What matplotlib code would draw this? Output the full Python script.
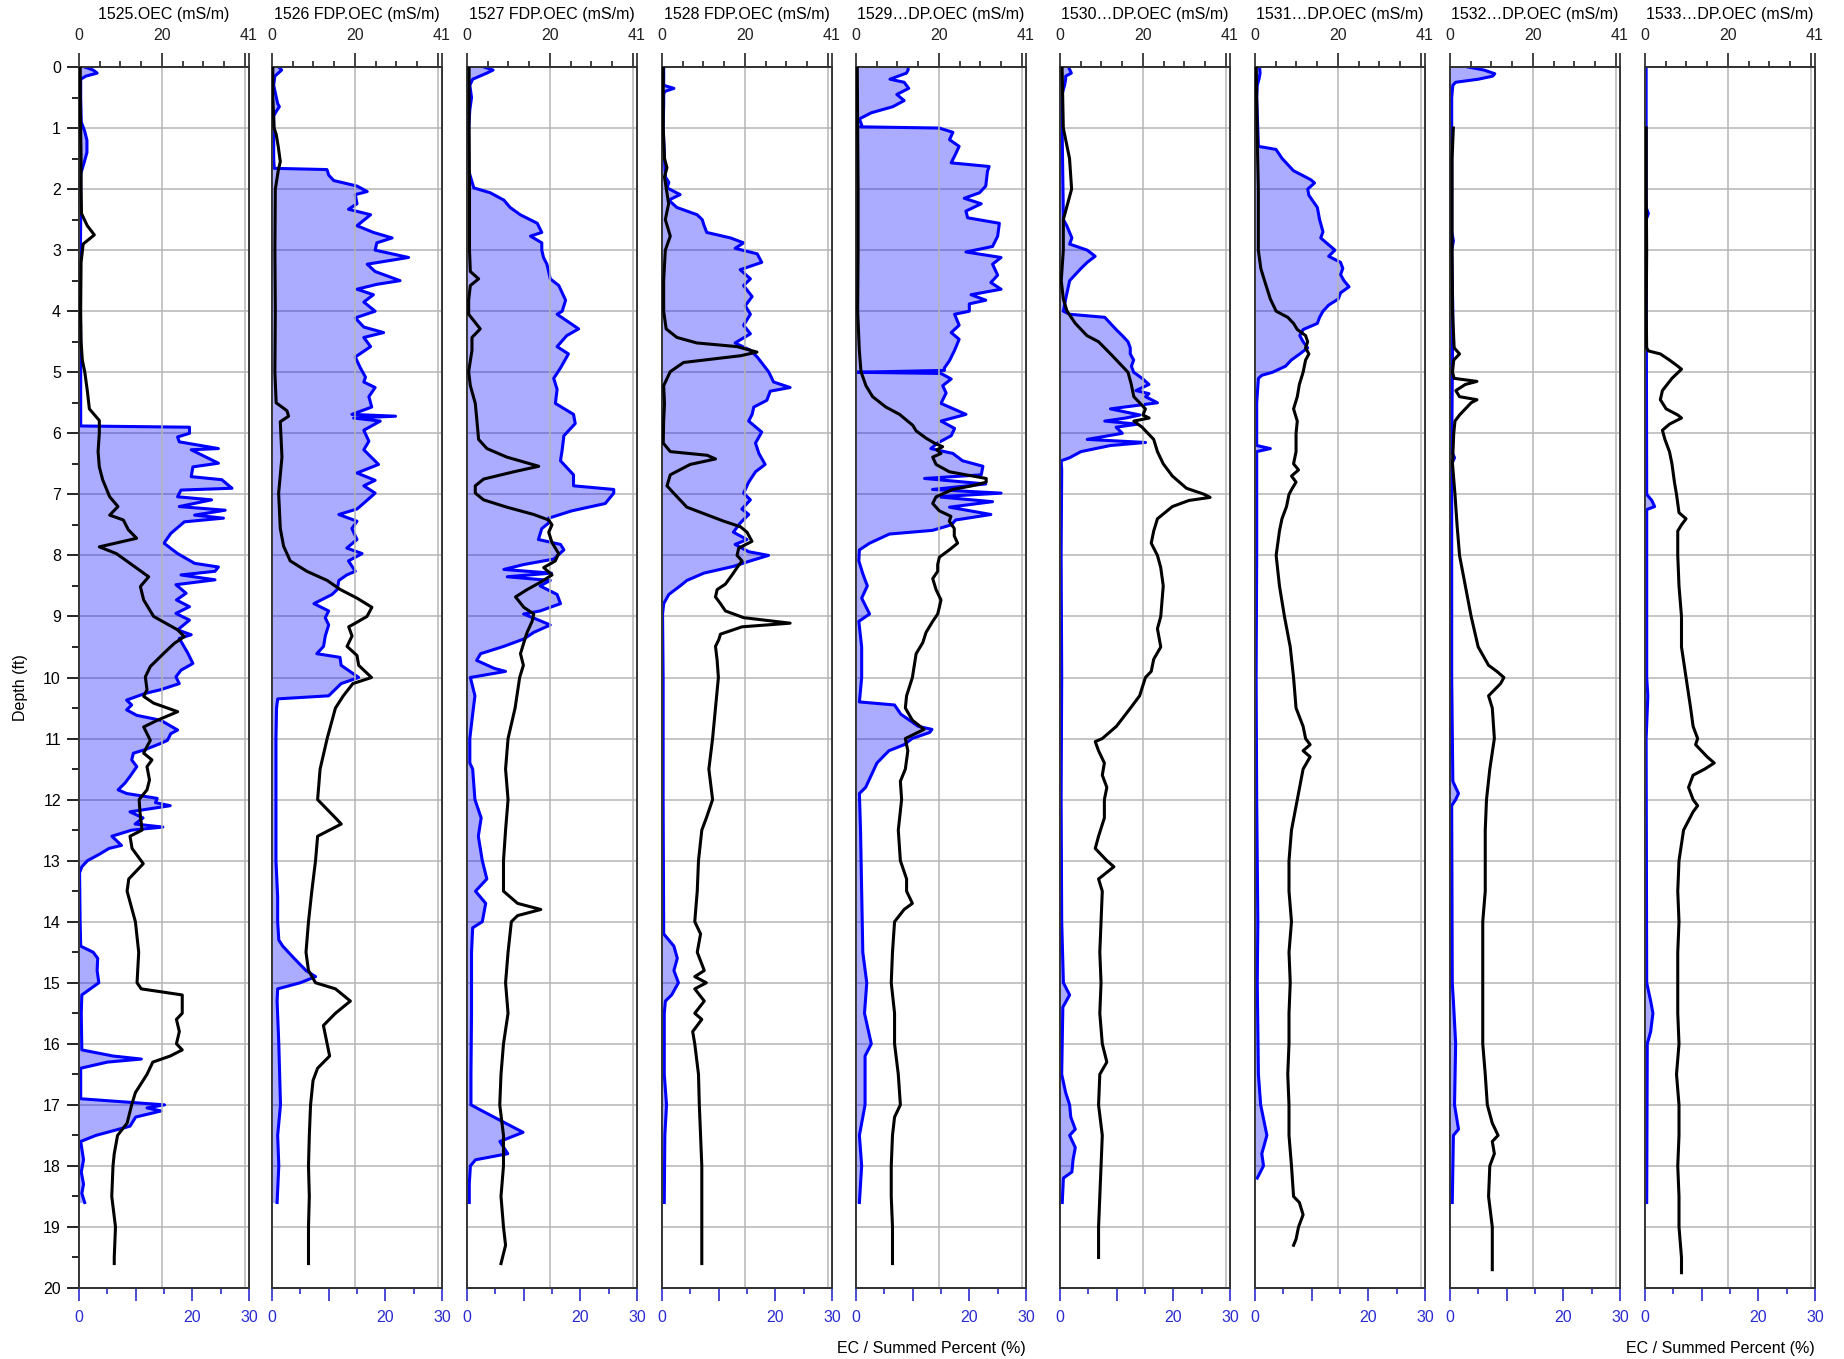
import numpy as np
import matplotlib
matplotlib.use("Agg")
import matplotlib.pyplot as plt
from matplotlib.ticker import FixedLocator, MultipleLocator

plt.rcParams['font.family'] = ['Liberation Sans', 'DejaVu Sans']

# panel titles (top axis = OEC in mS/m, bottom axis = summed percent)
titles = ['1525.OEC (mS/m)', '1526 FDP.OEC (mS/m)', '1527 FDP.OEC (mS/m)',
          '1528 FDP.OEC (mS/m)', '1529…DP.OEC (mS/m)', '1530…DP.OEC (mS/m)',
          '1531…DP.OEC (mS/m)', '1532…DP.OEC (mS/m)', '1533…DP.OEC (mS/m)']

# (depth ft, summed percent %) - blue filled trace
pct_1525 = [(0.0, 1.0), (0.05, 2.5), (0.1, 3.2), (0.15, 1.2), (0.2, 0.3), (0.5, 0.3), (0.9, 0.4),
            (1.05, 1.0), (1.2, 1.4), (1.4, 1.4), (1.6, 0.8), (1.75, 0.3), (2.5, 0.3), (3.5, 0.2),
            (4.5, 0.3), (5.5, 0.3), (5.88, 0.3), (5.9, 19.5), (6.0, 19.5), (6.06, 17.4), (6.14, 17.7),
            (6.25, 24.6), (6.27, 19.8), (6.49, 24.6), (6.55, 20.1), (6.71, 19.8), (6.76, 25.2),
            (6.9, 27.0), (6.93, 18.0), (7.04, 17.4), (7.09, 23.4), (7.2, 17.7), (7.26, 25.8),
            (7.34, 20.4), (7.39, 25.5), (7.45, 18.6), (7.64, 16.2), (7.8, 15.0), (7.97, 17.4),
            (8.13, 20.4), (8.19, 24.6), (8.26, 24.0), (8.32, 18.0), (8.4, 24.0), (8.48, 17.1),
            (8.62, 18.9), (8.73, 17.2), (8.84, 19.5), (8.95, 17.1), (9.06, 19.5), (9.22, 17.4),
            (9.3, 19.8), (9.36, 17.7), (9.6, 19.2), (9.77, 20.1), (9.88, 18.0), (9.99, 17.1),
            (10.1, 17.7), (10.2, 14.4), (10.26, 11.7), (10.37, 8.4), (10.45, 9.3), (10.53, 8.4),
            (10.62, 10.2), (10.7, 14.4), (10.86, 17.4), (10.92, 16.2), (11.03, 15.6), (11.08, 14.4),
            (11.18, 11.7), (11.24, 9.6), (11.35, 9.3), (11.46, 10.2), (11.62, 9.0), (11.73, 8.1),
            (11.84, 6.9), (11.9, 8.4), (11.98, 13.8), (12.05, 13.5), (12.1, 16.1), (12.2, 9.0),
            (12.3, 11.3), (12.4, 9.9), (12.45, 14.8), (12.5, 9.3), (12.6, 5.8), (12.75, 7.5),
            (12.8, 5.3), (12.9, 3.5), (13.0, 1.5), (13.1, 0.5), (13.2, 0.1), (14.0, 0.2), (14.4, 0.3),
            (14.5, 2.5), (14.6, 3.3), (14.8, 3.2), (15.0, 3.5), (15.1, 2.0), (15.2, 0.5), (15.5, 0.4),
            (16.1, 0.5), (16.2, 6.0), (16.25, 11.0), (16.3, 5.0), (16.4, 0.3), (16.9, 0.3),
            (17.0, 15.1), (17.05, 12.0), (17.1, 14.5), (17.2, 10.0), (17.35, 9.0), (17.5, 3.0),
            (17.6, 0.3), (17.9, 0.8), (18.1, 0.4), (18.3, 0.8), (18.45, 0.5), (18.6, 1.0)]
pct_1526 = [(0.0, 1.2), (0.05, 1.7), (0.15, 0.5), (0.3, 0.3), (0.6, 1.0), (0.65, 1.3), (0.72, 0.8),
            (0.8, 0.3), (1.0, 0.3), (1.5, 0.3), (1.66, 0.4), (1.68, 9.7), (1.77, 10.0), (1.86, 10.9),
            (1.95, 15.0), (2.04, 16.8), (2.09, 14.7), (2.24, 15.0), (2.33, 13.5), (2.42, 17.4),
            (2.6, 15.0), (2.71, 17.9), (2.8, 21.2), (2.88, 18.5), (3.0, 18.2), (3.12, 24.1),
            (3.23, 16.8), (3.35, 18.2), (3.5, 22.6), (3.56, 18.5), (3.64, 15.0), (3.73, 17.9),
            (3.85, 16.2), (4.0, 18.2), (4.11, 14.7), (4.26, 16.2), (4.35, 19.7), (4.43, 16.2),
            (4.58, 17.4), (4.75, 14.7), (4.93, 15.6), (5.08, 16.5), (5.16, 16.2), (5.25, 18.2),
            (5.4, 17.1), (5.57, 17.6), (5.69, 14.1), (5.72, 21.8), (5.75, 14.4), (5.8, 19.1),
            (5.95, 16.2), (6.13, 17.1), (6.27, 16.2), (6.51, 18.8), (6.65, 15.0), (6.77, 18.2),
            (6.86, 16.2), (6.98, 18.2), (7.12, 16.5), (7.24, 15.0), (7.33, 11.8), (7.44, 15.0),
            (7.56, 14.1), (7.74, 15.0), (7.88, 13.2), (7.97, 15.9), (8.09, 13.5), (8.26, 14.7),
            (8.32, 13.2), (8.41, 11.8), (8.56, 11.5), (8.64, 10.6), (8.79, 7.4), (8.91, 10.0),
            (9.02, 9.4), (9.14, 10.0), (9.32, 9.4), (9.49, 9.1), (9.61, 7.9), (9.67, 12.0),
            (9.8, 12.2), (10.0, 15.3), (10.1, 12.2), (10.3, 10.0), (10.35, 1.0), (10.5, 0.8),
            (11.0, 0.7), (12.0, 0.7), (13.0, 0.7), (13.6, 1.0), (14.0, 1.0), (14.3, 1.2), (14.4, 1.9),
            (14.6, 3.9), (14.8, 6.0), (14.9, 7.7), (15.0, 5.0), (15.1, 1.0), (15.3, 0.9), (16.0, 1.2),
            (17.0, 1.5), (17.5, 1.0), (18.0, 1.2), (18.6, 0.9)]
pct_1527 = [(0.0, 3.0), (0.05, 4.6), (0.1, 3.5), (0.2, 1.0), (0.3, 0.5), (0.5, 0.8), (0.7, 0.5),
            (1.0, 0.3), (1.7, 0.3), (1.98, 1.2), (2.06, 4.1), (2.18, 6.5), (2.3, 7.6), (2.42, 9.4),
            (2.56, 12.4), (2.71, 13.2), (2.77, 11.2), (2.88, 13.2), (3.0, 13.2), (3.12, 13.5),
            (3.23, 14.1), (3.47, 14.7), (3.58, 16.2), (3.82, 17.4), (4.0, 16.8), (4.05, 15.9),
            (4.29, 19.7), (4.4, 17.6), (4.58, 15.9), (4.7, 17.9), (4.93, 16.5), (5.1, 15.3),
            (5.28, 15.9), (5.51, 15.6), (5.69, 18.8), (5.84, 19.1), (6.04, 17.1), (6.27, 16.8),
            (6.45, 16.5), (6.68, 18.8), (6.86, 18.8), (6.92, 25.9), (6.98, 25.9), (7.15, 24.4),
            (7.27, 18.5), (7.39, 14.4), (7.47, 14.4), (7.56, 13.2), (7.74, 12.6), (7.82, 16.5),
            (7.91, 17.1), (8.06, 15.3), (8.15, 10.0), (8.23, 6.5), (8.29, 14.9), (8.35, 7.1),
            (8.41, 14.7), (8.5, 12.9), (8.64, 15.9), (8.79, 16.5), (8.91, 12.9), (8.96, 10.0),
            (9.05, 12.4), (9.14, 14.7), (9.26, 11.8), (9.37, 10.0), (9.49, 6.5), (9.61, 2.4),
            (9.72, 1.7), (9.85, 4.8), (9.9, 6.8), (10.0, 0.6), (10.3, 1.4), (10.6, 1.0), (11.0, 0.5),
            (11.4, 0.5), (11.5, 1.0), (12.0, 1.4), (12.3, 2.5), (12.6, 2.0), (13.0, 2.7), (13.3, 3.5),
            (13.5, 1.5), (13.7, 3.3), (14.0, 2.7), (14.1, 1.0), (14.5, 0.8), (15.5, 0.8), (16.5, 0.7),
            (17.0, 0.7), (17.1, 2.7), (17.3, 6.8), (17.45, 9.9), (17.6, 5.8), (17.8, 7.2), (17.9, 1.5),
            (18.0, 0.6), (18.3, 0.4), (18.6, 0.4)]
pct_1528 = [(0.0, 0.3), (0.3, 0.3), (0.35, 2.1), (0.4, 0.5), (0.45, 0.3), (0.6, 0.3), (1.0, 0.2),
            (1.8, 0.6), (1.89, 1.2), (1.98, 0.9), (2.09, 3.2), (2.18, 1.2), (2.3, 2.6), (2.42, 6.2),
            (2.5, 7.1), (2.59, 7.4), (2.71, 7.9), (2.8, 12.1), (2.88, 14.4), (2.97, 12.9), (3.06, 16.8),
            (3.2, 17.6), (3.32, 13.8), (3.47, 15.6), (3.58, 14.4), (3.76, 15.9), (3.91, 14.7),
            (4.05, 15.6), (4.23, 14.4), (4.37, 15.6), (4.52, 12.9), (4.64, 15.6), (4.75, 16.8),
            (4.99, 18.8), (5.16, 19.7), (5.25, 22.6), (5.31, 19.1), (5.46, 18.5), (5.57, 16.2),
            (5.69, 15.9), (5.8, 15.3), (5.98, 17.6), (6.16, 16.5), (6.33, 17.1), (6.51, 18.2),
            (6.63, 16.5), (6.8, 15.3), (6.98, 14.4), (7.09, 15.6), (7.24, 14.1), (7.33, 15.3),
            (7.47, 13.8), (7.62, 12.6), (7.74, 15.0), (7.82, 12.9), (7.94, 15.3), (8.0, 18.8),
            (8.09, 15.6), (8.18, 12.6), (8.29, 7.4), (8.41, 4.4), (8.5, 3.2), (8.64, 1.2), (8.79, 0.3),
            (8.96, 0.1), (10.0, 0.2), (12.0, 0.2), (14.2, 0.3), (14.4, 2.1), (14.6, 2.7), (14.8, 2.1),
            (15.0, 2.9), (15.2, 1.7), (15.3, 0.6), (15.5, 0.4), (16.5, 0.4), (17.0, 0.8), (17.5, 0.5),
            (18.6, 0.4)]
pct_1529 = [(0.0, 9.2), (0.05, 9.2), (0.1, 8.9), (0.2, 6.0), (0.25, 8.5), (0.35, 9.3), (0.45, 7.2),
            (0.55, 8.5), (0.65, 6.5), (0.75, 2.7), (0.85, 0.6), (0.95, 1.0), (0.98, 0.8), (1.0, 14.7),
            (1.07, 17.1), (1.19, 16.5), (1.3, 18.2), (1.42, 17.6), (1.57, 16.8), (1.63, 23.5),
            (1.71, 23.2), (1.95, 22.9), (2.06, 21.8), (2.15, 19.1), (2.24, 22.1), (2.36, 19.4),
            (2.47, 19.7), (2.56, 25.3), (2.77, 25.0), (2.94, 24.1), (3.03, 19.4), (3.12, 25.6),
            (3.23, 24.1), (3.41, 25.0), (3.53, 23.8), (3.64, 25.6), (3.73, 20.3), (3.82, 22.9),
            (3.88, 20.0), (4.0, 20.0), (4.05, 17.4), (4.23, 18.2), (4.35, 16.8), (4.46, 18.2),
            (4.64, 17.4), (4.81, 16.5), (4.93, 15.6), (4.97, 15.6), (5.0, 0.0), (5.02, 15.0),
            (5.11, 16.8), (5.22, 15.3), (5.34, 15.9), (5.51, 15.0), (5.69, 19.4), (5.8, 15.0),
            (5.92, 17.4), (6.04, 16.8), (6.16, 14.4), (6.25, 13.2), (6.33, 17.1), (6.45, 18.8),
            (6.54, 22.4), (6.68, 22.1), (6.74, 12.1), (6.83, 22.9), (6.92, 13.5), (6.98, 25.6),
            (7.04, 14.4), (7.12, 24.1), (7.21, 16.5), (7.33, 23.8), (7.42, 17.6), (7.5, 16.8),
            (7.59, 13.5), (7.65, 5.9), (7.8, 2.4), (7.91, 0.6), (8.09, 0.5), (8.3, 1.2), (8.5, 2.0),
            (8.7, 1.0), (8.96, 2.4), (9.08, 0.5), (9.5, 1.0), (10.0, 1.0), (10.4, 0.6), (10.45, 6.8),
            (10.6, 7.9), (10.8, 11.0), (10.85, 13.4), (10.9, 13.0), (11.0, 9.9), (11.1, 8.5),
            (11.2, 5.8), (11.4, 3.7), (11.6, 2.7), (11.8, 1.7), (11.9, 0.6), (12.5, 0.8), (13.5, 1.0),
            (14.5, 1.2), (15.0, 1.9), (15.5, 1.5), (16.0, 2.7), (16.2, 1.6), (17.0, 1.6), (17.5, 0.6),
            (18.0, 1.0), (18.6, 0.6)]
pct_1530 = [(0.0, 1.5), (0.1, 2.0), (0.15, 1.0), (0.2, 1.0), (0.3, 0.8), (0.4, 0.5), (0.5, 0.3),
            (2.5, 0.6), (2.6, 1.2), (2.8, 2.1), (2.9, 1.7), (3.0, 4.8), (3.1, 6.2), (3.2, 4.8),
            (3.3, 3.7), (3.5, 1.7), (3.8, 1.0), (4.0, 0.6), (4.05, 1.7), (4.1, 7.9), (4.2, 8.9),
            (4.3, 9.9), (4.4, 11.0), (4.5, 12.0), (4.6, 12.4), (4.7, 12.4), (4.8, 13.0), (4.9, 12.6),
            (5.0, 13.0), (5.1, 14.5), (5.2, 15.7), (5.3, 13.4), (5.35, 15.7), (5.4, 15.1), (5.5, 17.2),
            (5.6, 8.9), (5.7, 14.1), (5.75, 11.6), (5.8, 7.9), (5.85, 13.7), (5.9, 9.9), (6.0, 11.0),
            (6.1, 4.8), (6.15, 15.1), (6.2, 8.9), (6.3, 3.7), (6.4, 1.7), (6.45, 0.2), (6.6, 0.3),
            (8.0, 0.2), (10.0, 0.3), (12.0, 0.2), (14.0, 0.3), (15.0, 0.6), (15.2, 1.7), (15.4, 0.5),
            (16.5, 0.3), (16.8, 1.0), (17.0, 1.7), (17.2, 1.9), (17.4, 2.7), (17.5, 1.7), (17.7, 2.7),
            (17.9, 2.3), (18.1, 2.1), (18.2, 0.6), (18.6, 0.4)]
pct_1531 = [(0.0, 0.8), (0.1, 0.9), (0.2, 0.7), (0.3, 0.4), (0.5, 0.3), (1.3, 0.6), (1.35, 3.7),
            (1.5, 4.8), (1.7, 6.8), (1.8, 8.9), (1.85, 9.9), (1.9, 10.5), (2.0, 9.3), (2.1, 9.5),
            (2.3, 11.0), (2.5, 11.4), (2.7, 12.0), (2.8, 11.6), (3.0, 14.1), (3.1, 13.0), (3.2, 15.1),
            (3.3, 15.5), (3.4, 15.1), (3.5, 15.7), (3.6, 16.6), (3.7, 15.1), (3.8, 14.7), (3.9, 13.0),
            (4.0, 12.0), (4.1, 11.4), (4.2, 11.0), (4.3, 8.5), (4.4, 7.9), (4.5, 8.5), (4.6, 9.3),
            (4.7, 7.9), (4.8, 6.4), (4.9, 5.4), (5.0, 3.1), (5.05, 1.2), (5.1, 0.6), (5.5, 0.3),
            (6.2, 0.3), (6.25, 2.7), (6.3, 0.3), (8.0, 0.3), (10.0, 0.2), (12.0, 0.3), (14.0, 0.5),
            (15.0, 0.4), (16.5, 0.6), (17.0, 1.0), (17.5, 2.1), (17.8, 1.2), (18.0, 1.5), (18.2, 0.4)]
pct_1532 = [(0.0, 3.2), (0.05, 6.0), (0.11, 7.9), (0.15, 7.5), (0.2, 5.0), (0.25, 1.0), (0.3, 0.5),
            (0.5, 0.3), (2.7, 0.3), (2.85, 0.6), (3.0, 0.3), (4.0, 0.5), (6.3, 0.3), (6.4, 0.8),
            (6.5, 0.3), (10.0, 0.3), (11.7, 0.5), (11.9, 1.5), (12.0, 1.0), (12.1, 0.3), (15.0, 0.4),
            (15.3, 0.6), (16.0, 1.0), (17.0, 0.8), (17.4, 1.5), (17.5, 0.6), (18.6, 0.4)]
pct_1533 = [(0.0, 0.2), (2.3, 0.2), (2.4, 0.6), (2.5, 0.2), (7.0, 0.3), (7.1, 1.2), (7.2, 1.7),
            (7.25, 0.3), (10.0, 0.3), (10.3, 0.5), (11.0, 0.2), (15.0, 0.3), (15.3, 1.0), (15.5, 1.4),
            (15.8, 1.0), (16.0, 0.4), (18.6, 0.3)]

# (depth ft, EC mS/m) - black trace
ec_1525 = [(0.0, 0.3), (0.5, 0.3), (1.0, 0.4), (1.5, 0.5), (2.0, 0.5), (2.4, 0.6), (2.6, 2.0),
           (2.75, 3.7), (2.9, 1.0), (3.2, 0.5), (4.0, 0.4), (4.5, 0.5), (4.8, 0.8), (5.0, 1.4),
           (5.3, 2.0), (5.6, 2.5), (5.79, 4.9), (6.0, 4.9), (6.3, 4.6), (6.55, 4.9), (6.76, 5.7),
           (7.04, 7.4), (7.2, 9.4), (7.34, 7.4), (7.42, 10.7), (7.58, 11.9), (7.72, 13.9), (7.86, 4.9),
           (7.97, 9.0), (8.13, 12.3), (8.35, 16.8), (8.51, 14.8), (8.73, 15.6), (9.0, 18.0),
           (9.22, 23.8), (9.33, 25.4), (9.44, 23.0), (9.6, 20.5), (9.82, 17.2), (9.99, 16.0),
           (10.2, 16.4), (10.31, 15.6), (10.42, 18.0), (10.56, 23.8), (10.7, 18.9), (10.81, 15.6),
           (11.03, 17.2), (11.13, 16.4), (11.24, 15.6), (11.35, 17.6), (11.46, 16.4), (11.68, 17.0),
           (11.84, 16.4), (12.0, 14.5), (12.2, 14.7), (12.5, 15.2), (12.6, 12.3), (12.8, 12.8),
           (13.05, 15.5), (13.3, 12.0), (13.5, 11.6), (14.0, 13.6), (14.5, 14.4), (15.0, 14.0),
           (15.1, 15.0), (15.2, 24.9), (15.5, 24.9), (15.6, 23.5), (15.8, 24.2), (16.0, 23.5),
           (16.1, 24.9), (16.2, 22.0), (16.3, 17.8), (16.5, 16.4), (16.8, 13.6), (17.0, 12.7),
           (17.3, 11.6), (17.5, 9.3), (17.8, 8.5), (18.0, 8.2), (18.5, 7.9), (19.0, 8.8), (19.5, 8.5),
           (19.6, 8.5)]
ec_1526 = [(0.0, 0.2), (0.5, 0.2), (1.0, 0.5), (1.1, 1.0), (1.3, 1.5), (1.55, 2.0), (1.7, 1.5),
           (2.0, 0.8), (3.0, 0.7), (4.0, 0.8), (5.0, 0.7), (5.5, 1.0), (5.63, 3.6), (5.72, 4.0),
           (5.81, 2.0), (6.39, 2.4), (6.98, 1.6), (7.56, 2.0), (7.85, 2.8), (8.09, 4.4), (8.26, 8.4),
           (8.41, 13.3), (8.56, 16.5), (8.7, 20.5), (8.85, 24.1), (9.0, 22.9), (9.11, 20.1),
           (9.17, 18.5), (9.32, 19.3), (9.49, 18.1), (9.64, 20.5), (9.8, 20.9), (10.0, 24.0),
           (10.1, 19.5), (10.3, 17.2), (10.5, 15.3), (11.0, 13.3), (11.5, 11.6), (12.0, 11.0),
           (12.3, 15.3), (12.4, 16.7), (12.6, 11.0), (13.0, 10.5), (13.5, 9.6), (14.0, 8.8),
           (14.5, 8.2), (14.8, 8.8), (15.0, 10.5), (15.1, 15.3), (15.3, 18.9), (15.5, 15.3),
           (15.7, 12.4), (16.0, 13.3), (16.2, 13.9), (16.4, 11.0), (16.6, 9.9), (17.0, 9.3),
           (17.5, 9.0), (18.0, 8.8), (18.5, 9.0), (19.0, 8.8), (19.6, 8.8)]
ec_1527 = [(0.0, 0.5), (1.0, 0.5), (2.0, 0.6), (3.0, 0.6), (3.35, 0.8), (3.47, 2.8), (3.58, 0.8),
           (3.82, 0.4), (4.05, 0.4), (4.29, 3.2), (4.43, 1.2), (4.64, 1.2), (4.99, 0.4), (5.22, 0.8),
           (5.51, 2.0), (5.8, 2.4), (6.1, 2.8), (6.25, 4.8), (6.39, 9.6), (6.54, 17.3), (6.63, 11.3),
           (6.75, 4.0), (6.86, 2.0), (6.98, 2.0), (7.09, 4.0), (7.21, 9.6), (7.33, 16.1), (7.42, 19.7),
           (7.5, 20.5), (7.62, 19.7), (7.79, 20.5), (7.97, 22.1), (8.09, 21.3), (8.2, 18.5),
           (8.32, 20.5), (8.44, 17.7), (8.56, 14.5), (8.68, 11.7), (8.85, 13.7), (8.96, 16.1),
           (9.08, 15.7), (9.26, 14.5), (9.43, 13.7), (9.61, 12.9), (9.8, 13.6), (10.0, 12.7),
           (10.5, 11.6), (11.0, 9.9), (11.5, 9.3), (12.0, 9.9), (12.5, 9.3), (13.0, 8.8), (13.5, 8.8),
           (13.7, 12.2), (13.8, 17.8), (13.9, 12.2), (14.0, 10.7), (14.5, 9.9), (15.0, 9.3),
           (15.5, 9.9), (16.0, 8.8), (16.5, 8.2), (17.0, 7.9), (17.5, 8.8), (18.0, 8.8), (18.5, 8.2),
           (19.0, 8.8), (19.3, 9.3), (19.6, 8.2)]
ec_1528 = [(0.0, 0.3), (1.0, 0.3), (1.5, 0.6), (1.65, 1.2), (1.8, 0.6), (2.24, 1.6), (2.5, 0.8),
           (2.77, 2.0), (3.0, 0.8), (3.5, 0.4), (4.0, 0.4), (4.29, 1.0), (4.43, 3.6), (4.52, 8.4),
           (4.58, 18.1), (4.67, 22.9), (4.73, 18.9), (4.84, 5.2), (4.99, 2.0), (5.22, 0.4), (5.51, 0.6),
           (5.8, 0.4), (6.16, 0.3), (6.3, 2.0), (6.36, 10.9), (6.42, 12.9), (6.51, 6.8), (6.68, 2.0),
           (6.86, 1.2), (6.98, 2.8), (7.21, 6.0), (7.44, 14.9), (7.53, 18.9), (7.62, 20.5),
           (7.77, 21.7), (7.88, 18.5), (8.0, 18.1), (8.09, 19.3), (8.2, 18.1), (8.32, 16.9),
           (8.47, 15.3), (8.56, 13.3), (8.68, 12.9), (8.79, 14.1), (8.91, 15.3), (9.02, 19.7),
           (9.11, 30.9), (9.17, 19.3), (9.29, 14.1), (9.38, 13.7), (9.49, 12.9), (9.72, 13.3),
           (10.0, 13.6), (10.5, 12.9), (11.0, 12.2), (11.5, 11.3), (12.0, 12.2), (12.3, 10.7),
           (12.5, 9.6), (13.0, 8.8), (13.5, 8.5), (14.0, 7.9), (14.2, 9.3), (14.5, 8.5), (14.8, 10.2),
           (14.9, 7.9), (15.0, 10.7), (15.1, 7.9), (15.3, 10.2), (15.5, 7.9), (15.6, 9.6), (15.8, 7.4),
           (16.0, 7.9), (16.5, 8.8), (17.0, 9.0), (17.5, 9.3), (18.0, 9.6), (18.5, 9.6), (19.0, 9.6),
           (19.6, 9.6)]
ec_1529 = [(0.0, 0.3), (1.0, 0.4), (2.0, 0.5), (3.0, 0.5), (4.0, 0.4), (4.64, 0.8), (4.99, 1.2),
           (5.22, 2.4), (5.4, 4.0), (5.57, 7.2), (5.69, 10.5), (5.87, 13.7), (5.96, 14.5), (6.08, 16.9),
           (6.16, 18.9), (6.22, 20.9), (6.27, 19.5), (6.33, 20.5), (6.39, 18.5), (6.51, 19.3),
           (6.63, 22.5), (6.74, 31.4), (6.8, 31.4), (6.86, 28.0), (6.92, 23.3), (7.04, 19.3),
           (7.15, 18.5), (7.27, 20.1), (7.36, 22.9), (7.44, 22.5), (7.56, 23.7), (7.68, 23.7),
           (7.8, 24.5), (7.91, 22.5), (8.03, 20.1), (8.15, 19.7), (8.26, 19.7), (8.38, 18.5),
           (8.56, 19.3), (8.73, 20.5), (8.85, 20.1), (8.96, 19.7), (9.08, 18.5), (9.26, 16.9),
           (9.43, 16.1), (9.61, 14.5), (10.0, 13.6), (10.3, 12.2), (10.5, 11.9), (10.7, 13.6),
           (10.85, 16.4), (11.0, 11.9), (11.2, 12.5), (11.5, 11.9), (11.7, 10.7), (12.0, 11.0),
           (12.5, 10.2), (13.0, 10.7), (13.3, 12.2), (13.5, 12.2), (13.7, 13.6), (13.8, 11.6),
           (14.0, 9.3), (14.5, 8.8), (15.0, 8.5), (15.5, 9.3), (16.0, 9.3), (16.5, 10.2), (17.0, 10.7),
           (17.2, 9.3), (17.5, 8.8), (18.0, 8.5), (18.5, 8.5), (19.0, 8.8), (19.6, 8.8)]
ec_1530 = [(0.0, 0.5), (1.0, 0.8), (1.5, 2.3), (2.0, 2.8), (2.5, 0.8), (3.0, 0.8), (3.5, 0.3),
           (3.8, 0.8), (4.0, 1.7), (4.2, 3.7), (4.4, 6.5), (4.5, 9.3), (4.7, 12.2), (4.9, 15.0),
           (5.0, 16.4), (5.2, 17.2), (5.4, 17.8), (5.6, 20.6), (5.7, 20.0), (5.75, 21.5), (5.8, 17.8),
           (5.9, 19.8), (6.0, 21.2), (6.1, 22.6), (6.3, 23.5), (6.5, 24.9), (6.7, 27.1), (6.9, 30.5),
           (7.0, 34.8), (7.05, 36.2), (7.1, 31.1), (7.2, 27.1), (7.4, 23.5), (7.6, 22.6), (7.8, 22.0),
           (8.0, 23.5), (8.2, 24.3), (8.5, 24.9), (9.0, 24.3), (9.2, 23.5), (9.5, 24.3), (9.7, 22.6),
           (9.9, 22.0), (10.0, 20.6), (10.3, 19.2), (10.5, 17.0), (10.8, 13.6), (11.0, 10.2),
           (11.05, 8.5), (11.2, 9.3), (11.4, 10.7), (11.6, 10.2), (11.8, 11.3), (12.0, 10.7),
           (12.3, 10.7), (12.6, 9.3), (12.8, 8.5), (13.0, 11.3), (13.1, 13.0), (13.3, 9.3),
           (13.5, 10.2), (14.0, 9.9), (14.5, 9.6), (15.0, 9.9), (15.5, 9.6), (16.0, 10.2), (16.3, 11.3),
           (16.5, 9.6), (17.0, 9.3), (17.5, 10.2), (18.0, 9.9), (18.5, 9.6), (19.0, 9.3), (19.5, 9.3)]
ec_1531 = [(0.0, 0.3), (1.0, 0.5), (2.0, 0.8), (3.0, 0.8), (3.3, 1.4), (3.5, 2.3), (3.8, 3.7),
           (4.0, 5.1), (4.1, 7.9), (4.2, 9.3), (4.3, 10.2), (4.4, 12.2), (4.5, 12.7), (4.6, 12.2),
           (4.7, 13.0), (4.8, 12.2), (5.0, 11.6), (5.2, 10.7), (5.4, 10.2), (5.6, 9.3), (5.8, 10.2),
           (6.0, 9.9), (6.3, 9.9), (6.5, 9.3), (6.6, 10.5), (6.7, 8.8), (6.8, 9.9), (6.9, 9.0),
           (7.0, 8.2), (7.2, 7.6), (7.4, 6.5), (7.6, 5.9), (8.0, 5.1), (8.5, 5.9), (9.0, 7.1),
           (9.5, 8.5), (10.0, 9.3), (10.5, 9.9), (10.8, 11.6), (11.0, 12.2), (11.1, 13.3), (11.2, 11.6),
           (11.3, 13.3), (11.5, 11.6), (12.0, 10.2), (12.5, 8.8), (13.0, 8.2), (13.5, 8.2), (14.0, 8.8),
           (14.5, 8.2), (15.0, 8.5), (15.5, 8.2), (16.0, 8.2), (16.5, 7.9), (17.0, 8.2), (17.5, 8.2),
           (18.0, 8.8), (18.5, 9.3), (18.6, 10.7), (18.8, 11.6), (19.0, 10.5), (19.2, 9.9), (19.3, 9.3)]
ec_1532 = [(1.0, 0.8), (1.5, 0.5), (2.0, 0.5), (3.0, 0.5), (4.0, 0.6), (4.6, 1.0), (4.7, 2.3),
           (4.8, 0.9), (5.0, 0.6), (5.1, 1.0), (5.15, 6.5), (5.2, 3.7), (5.3, 1.4), (5.4, 2.3),
           (5.45, 6.5), (5.5, 5.1), (5.6, 3.7), (5.7, 2.3), (5.8, 1.2), (6.0, 0.9), (6.5, 0.6),
           (7.0, 1.2), (7.5, 1.7), (8.0, 2.3), (8.5, 3.7), (9.0, 5.1), (9.5, 6.8), (9.8, 9.3),
           (9.9, 11.3), (10.0, 13.0), (10.1, 12.2), (10.3, 9.3), (10.5, 10.2), (11.0, 10.7),
           (11.5, 9.6), (12.0, 8.8), (12.5, 8.5), (13.0, 8.5), (13.5, 8.5), (14.0, 7.9), (14.5, 7.9),
           (15.0, 7.9), (15.5, 7.9), (16.0, 7.9), (16.5, 8.5), (17.0, 9.0), (17.3, 10.2), (17.5, 11.6),
           (17.6, 10.2), (17.8, 10.7), (18.0, 9.6), (18.5, 9.3), (19.0, 10.2), (19.5, 10.2), (19.7, 10.2)]
ec_1533 = [(1.0, 0.3), (2.0, 0.3), (3.0, 0.4), (4.0, 0.3), (4.6, 0.4), (4.65, 0.8), (4.7, 3.7),
           (4.8, 5.9), (4.9, 7.9), (4.95, 8.8), (5.1, 6.5), (5.3, 4.2), (5.45, 3.7), (5.6, 5.1),
           (5.7, 7.9), (5.75, 8.8), (5.85, 5.9), (5.95, 4.2), (6.1, 4.8), (6.3, 5.9), (6.5, 6.5),
           (6.8, 7.1), (7.0, 7.6), (7.3, 8.2), (7.4, 9.9), (7.5, 8.8), (7.6, 7.9), (8.0, 7.9),
           (8.5, 8.2), (9.0, 8.8), (9.5, 8.8), (10.0, 9.9), (10.5, 11.0), (10.8, 11.6), (11.0, 12.7),
           (11.1, 12.2), (11.3, 15.0), (11.4, 16.7), (11.5, 14.4), (11.6, 11.6), (11.8, 10.5),
           (12.0, 11.6), (12.1, 12.7), (12.2, 11.6), (12.5, 9.3), (13.0, 8.2), (13.5, 7.9), (14.0, 8.2),
           (14.5, 7.9), (15.0, 7.9), (15.5, 7.9), (16.0, 8.2), (16.5, 7.6), (17.0, 8.2), (17.5, 8.2),
           (18.0, 7.9), (18.5, 8.2), (19.0, 8.2), (19.5, 8.8), (19.75, 8.8)]

pct_series = [pct_1525, pct_1526, pct_1527, pct_1528, pct_1529, pct_1530, pct_1531, pct_1532, pct_1533]
ec_series = [ec_1525, ec_1526, ec_1527, ec_1528, ec_1529, ec_1530, ec_1531, ec_1532, ec_1533]

W, H = 1844, 1359
fig = plt.figure(figsize=(W / 100, H / 100), dpi=100)

# panel placement in pixels
lefts = [79, 272, 467, 662, 856, 1060, 1255, 1450, 1645]
pw = 170
top_px, bot_px = 67, 1288
blue = '#0000ff'
tick_blue = '#2b2bd0'
grid_c = '#b5b5b5'
fs = 11.5

for i, (title, pct, ec) in enumerate(zip(titles, pct_series, ec_series)):
    ax = fig.add_axes([lefts[i] / W, 1 - bot_px / H, pw / W, (bot_px - top_px) / H])
    ax.set_xlim(0, 30)
    ax.set_ylim(20, 0)

    d, v = np.array(pct).T
    ax.fill_betweenx(d, 0, v, color=blue, alpha=0.33, lw=0, zorder=2)
    ax.plot(v, d, color=blue, lw=2.2, zorder=3, solid_joinstyle='round')

    # depth grid + ticks
    ax.set_yticks(np.arange(0, 21, 1))
    ax.yaxis.set_minor_locator(MultipleLocator(0.5))
    ax.grid(axis='y', color=grid_c, lw=1.1)
    ax.set_axisbelow(True)
    if i == 0:
        ax.tick_params(axis='y', which='major', length=9, width=1.2, pad=4, labelsize=fs)
        ax.tick_params(axis='y', which='minor', length=5, width=1.2)
    else:
        ax.tick_params(axis='y', which='both', length=0, labelleft=False)

    # bottom axis (percent)
    ax.set_xticks([0, 10, 20, 30])
    ax.set_xticklabels(['0', '', '20', '30'])
    ax.xaxis.set_minor_locator(FixedLocator([5, 15, 25]))
    ax.tick_params(axis='x', which='major', colors=tick_blue, length=9, width=1.2, pad=7, labelsize=fs)
    ax.tick_params(axis='x', which='minor', colors=tick_blue, length=4, width=1.2)

    # top axis (EC)
    ax2 = ax.twiny()
    ax2.set_xlim(0, 41)
    de, ve = np.array(ec).T
    ax2.plot(ve, de, color='black', lw=2.2, zorder=4, solid_joinstyle='round')
    ax2.set_xticks([0, 20, 40, 41])
    ax2.set_xticklabels(['0', '20', '', '41'])
    ax2.xaxis.set_minor_locator(FixedLocator([5, 10, 15, 25, 30, 35]))
    ax2.grid(axis='x', color=grid_c, lw=1.1)
    ax2.tick_params(axis='x', which='major', length=10, width=1.2, pad=7, labelsize=fs, colors='#222222')
    ax2.tick_params(axis='x', which='minor', length=4, width=1.2, colors='#222222')

    for a in (ax, ax2):
        for s in a.spines.values():
            s.set_linewidth(1.3)
            s.set_color('#333333')

    fig.text((lefts[i] + pw / 2) / W, 1 - 14 / H, title, ha='center', va='center', fontsize=fs)

fig.text(21 / W, 1 - 688 / H, 'Depth (ft)', rotation=90, ha='center', va='center', fontsize=fs)
for k in (4, 8):
    fig.text((lefts[k] + pw) / W, 1 - 1348 / H, 'EC / Summed Percent (%)',
             ha='right', va='center', fontsize=fs)

fig.savefig('out.png', dpi=100)
print("Saved: out.png")
